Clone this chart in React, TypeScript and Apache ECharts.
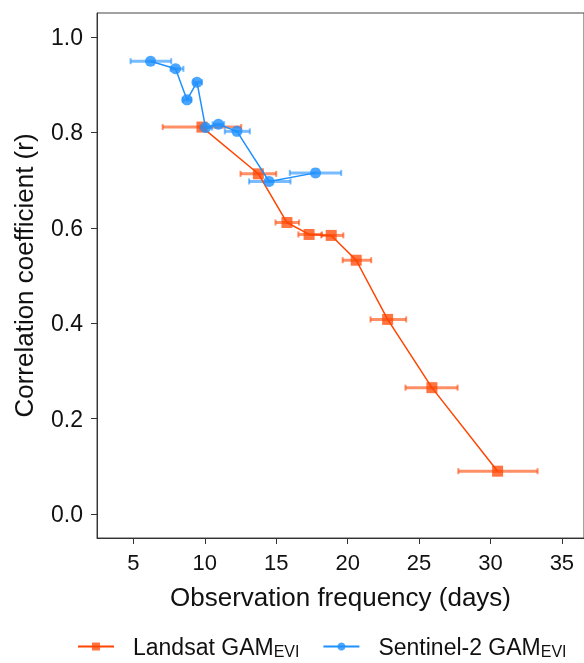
import React, { useEffect, useRef } from "react";
import * as echarts from "echarts";

const landsatX = [9.8, 13.75, 15.75, 17.3, 18.85, 20.6, 22.8, 25.9, 30.5];
const landsatR = [0.811, 0.713, 0.611, 0.586, 0.584, 0.532, 0.408, 0.265, 0.09];
const landsatLo = [7.05, 12.5, 14.95, 16.55, 18.15, 19.65, 21.6, 24.05, 27.75];
const landsatHi = [12.55, 15.0, 16.6, 18.2, 19.7, 21.65, 24.1, 27.7, 33.3];

const sentinelX = [6.2, 7.95, 8.75, 9.45, 10.05, 10.95, 12.25, 14.5, 17.75];
const sentinelR = [0.949, 0.933, 0.868, 0.905, 0.81, 0.817, 0.802, 0.697, 0.715];
const sentinelLo = [4.8, 7.6, 8.45, 9.2, 9.7, 10.55, 11.4, 13.1, 15.95];
const sentinelHi = [7.65, 8.5, 9.05, 9.8, 10.5, 11.35, 13.15, 16.0, 19.55];

const xTicks = [5, 10, 15, 20, 25, 30, 35];
const yTicks = [0, 0.2, 0.4, 0.6, 0.8, 1.0];

const RED = "#FF4500";
const BLUE = "#1E90FF";

function errorSeries(name: string, lo: number[], hi: number[], ys: number[], color: string) {
  return {
    name,
    type: "custom",
    data: lo.map((l, i) => [l, hi[i], ys[i]]),
    encode: { x: [0, 1], y: 2 },
    z: 1,
    itemStyle: { color },
    renderItem: (params: any, api: any) => {
      const a = api.coord([api.value(0), api.value(2)]);
      const b = api.coord([api.value(1), api.value(2)]);
      const st = { stroke: color, lineWidth: 3, opacity: 0.6 };
      return {
        type: "group",
        children: [
          { type: "line", shape: { x1: a[0], y1: a[1], x2: b[0], y2: b[1] }, style: st },
          { type: "line", shape: { x1: a[0], y1: a[1] - 3, x2: a[0], y2: a[1] + 3 }, style: { ...st, lineWidth: 2 } },
          { type: "line", shape: { x1: b[0], y1: b[1] - 3, x2: b[0], y2: b[1] + 3 }, style: { ...st, lineWidth: 2 } },
        ],
      };
    },
  };
}

export default function App() {
  const ref = useRef<HTMLDivElement>(null);
  useEffect(() => {
    if (!ref.current) return;
    const chart = echarts.init(ref.current, undefined, { renderer: "svg" });
    const font = "Liberation Sans, Arial, sans-serif";
    chart.setOption({
      animation: false,
      textStyle: { fontFamily: font },
      grid: {
        left: 97,
        top: 13,
        width: 488,
        height: 525,
        show: true,
        borderColor: "#444",
        borderWidth: 1,
        backgroundColor: "transparent",
      },
      legend: {
        left: 72,
        top: 630,
        itemWidth: 36,
        itemHeight: 10,
        itemGap: 23,
        data: ["Landsat", "Sentinel-2"],
        formatter: (n: string) =>
          n === "Landsat" ? "{a|Landsat GAM}{s|EVI}" : "{a|Sentinel-2 GAM}{s|EVI}",
        textStyle: {
          fontFamily: font,
          color: "#111",
          rich: {
            a: { fontSize: 23, fontFamily: font, color: "#111", lineHeight: 26, padding: [0, 0, 0, 14] },
            s: { fontSize: 16, fontFamily: font, color: "#111", lineHeight: 26, verticalAlign: "bottom", padding: [8, 0, 0, 0] },
          },
        },
      },
      xAxis: {
        type: "value",
        min: 2.45,
        max: 36.55,
        name: "Observation frequency (days)",
        nameLocation: "middle",
        nameGap: 46,
        nameTextStyle: { fontSize: 26, color: "#111", fontFamily: font },
        splitLine: { show: false },
        axisLine: { show: true, onZero: false, lineStyle: { color: "#333", width: 1 } },
        axisTick: { show: true, length: 6, lineStyle: { color: "#333" }, customValues: xTicks },
        axisLabel: { fontSize: 22, color: "#111", margin: 13, customValues: xTicks, fontFamily: font },
      },
      yAxis: {
        type: "value",
        min: -0.05,
        max: 1.05,
        name: "Correlation coefficient (r)",
        nameLocation: "middle",
        nameGap: 60,
        nameTextStyle: { fontSize: 26, color: "#111", fontFamily: font },
        splitLine: { show: false },
        axisLine: { show: true, onZero: false, lineStyle: { color: "#333", width: 1 } },
        axisTick: { show: true, length: 6, lineStyle: { color: "#333" }, customValues: yTicks },
        axisLabel: {
          fontSize: 23,
          color: "#111",
          margin: 14,
          customValues: yTicks,
          fontFamily: font,
          formatter: (v: number) => v.toFixed(1),
        },
      },
      series: [
        errorSeries("Landsat err", landsatLo, landsatHi, landsatR, RED),
        {
          name: "Landsat",
          type: "line",
          data: landsatX.map((x, i) => [x, landsatR[i]]),
          symbol: "rect",
          symbolSize: 11,
          z: 2,
          lineStyle: { color: RED, width: 1.5 },
          itemStyle: { color: RED, opacity: 0.75 },
        },
        errorSeries("Sentinel-2 err", sentinelLo, sentinelHi, sentinelR, BLUE),
        {
          name: "Sentinel-2",
          type: "line",
          data: sentinelX.map((x, i) => [x, sentinelR[i]]),
          symbol: "circle",
          symbolSize: 11,
          z: 3,
          lineStyle: { color: BLUE, width: 1.5 },
          itemStyle: { color: BLUE, opacity: 0.8 },
        },
      ],
    });
    return () => chart.dispose();
  }, []);
  return <div ref={ref} style={{ position: "fixed", left: 0, top: 0, width: 584, height: 663 }} />;
}
